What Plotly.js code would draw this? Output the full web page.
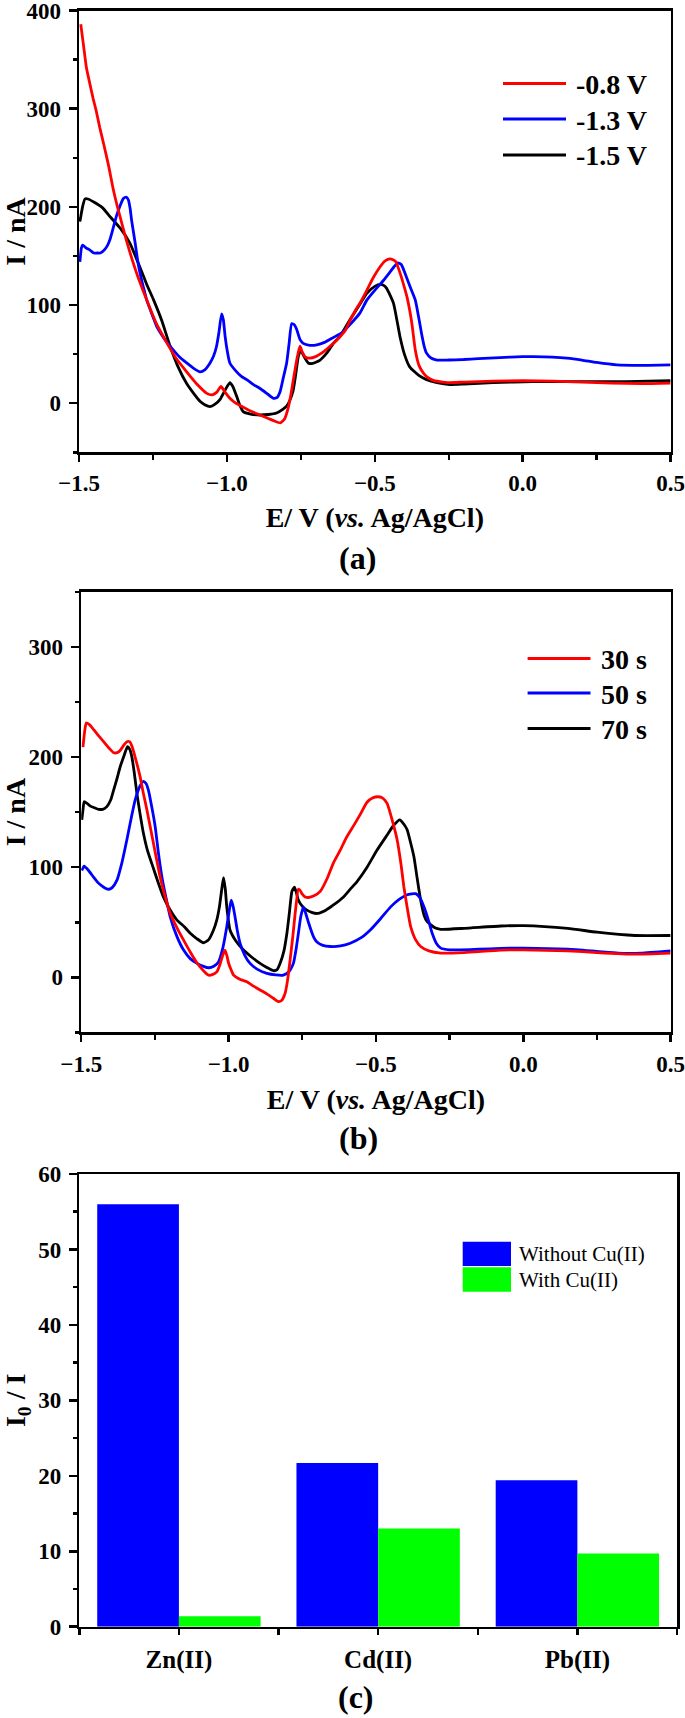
<!DOCTYPE html>
<html>
<head>
<meta charset="utf-8">
<script src="https://cdn.plot.ly/plotly-3.0.1.min.js"></script>
<style>html,body{margin:0;padding:0;background:#fff}#chart{width:685px;height:1718px}</style>
</head>
<body>
<div id="chart"></div>
<script>
// ---------- Panel (a): deposition potential ----------
const aLegend = ['-0.8 V', '-1.3 V', '-1.5 V'];
const aRedE = [-1.494,-1.485,-1.475,-1.463,-1.452,-1.442,-1.43,-1.415,-1.4,-1.385,-1.37,-1.355,-1.339,-1.32,-1.3,-1.271,-1.24,-1.204,-1.17,-1.136,-1.1,-1.068,-1.05,-1.035,-1.02,-1.008,-0.99,-0.97,-0.945,-0.92,-0.888,-0.86,-0.84,-0.82,-0.805,-0.793,-0.783,-0.772,-0.762,-0.753,-0.745,-0.735,-0.72,-0.7,-0.68,-0.663,-0.64,-0.62,-0.6,-0.584,-0.565,-0.55,-0.527,-0.505,-0.482,-0.465,-0.448,-0.43,-0.415,-0.4,-0.391,-0.375,-0.363,-0.35,-0.335,-0.32,-0.3,-0.28,-0.25,-0.2,-0.1,0.0,0.1,0.2,0.3,0.4,0.5];
const aRedI = [386,365,342,325,310,298,281,262,242,219,200,183,165,146,128,105,82,62,45,32,19,10,8.5,11,17,12,5,0,-4,-8,-12,-15.5,-18,-20,-16,-5,10,30,47,58,52,47,46,47.5,51,55,61,67,74,84,95,102,115,128,139,145,147,144.5,133,118,108,82,54,38,30.5,26,23,22,21,21.5,22.5,23,22.5,21.5,20.5,20,20.5];
const aBlueE = [-1.497,-1.492,-1.488,-1.475,-1.463,-1.45,-1.44,-1.428,-1.418,-1.405,-1.395,-1.383,-1.373,-1.36,-1.35,-1.34,-1.333,-1.327,-1.322,-1.31,-1.3,-1.288,-1.277,-1.271,-1.255,-1.237,-1.21,-1.181,-1.16,-1.136,-1.11,-1.091,-1.075,-1.057,-1.045,-1.035,-1.027,-1.018,-1.012,-1.006,-0.998,-0.99,-0.97,-0.95,-0.933,-0.91,-0.888,-0.865,-0.843,-0.83,-0.82,-0.81,-0.798,-0.79,-0.781,-0.772,-0.764,-0.753,-0.742,-0.72,-0.696,-0.67,-0.64,-0.61,-0.584,-0.55,-0.527,-0.5,-0.471,-0.45,-0.435,-0.422,-0.41,-0.395,-0.38,-0.363,-0.352,-0.342,-0.333,-0.325,-0.31,-0.29,-0.25,-0.2,-0.15,-0.077,0.0,0.036,0.1,0.149,0.2,0.25,0.318,0.4,0.5];
const aBlueI = [144,158,161,158,156,153,153,153,155,160,167,180,191,202,208.5,210,207,198,186,163,142,125,112,105,92,78,65,54,47,41,35,32,34,41,48,58,72,91,85,68,52,41,33,27,24,19,15,10,5,6,12,25,41,60,81,80,75,65,61,59,59.5,62,67,72,80,92,105,115,125,133,139,143,141,130,118,105,88,71,58,51,46,44,44,44.5,45.5,46.5,47.5,47.5,47,46,44,41.5,39,38.5,39];
const aBlackE = [-1.497,-1.494,-1.488,-1.48,-1.47,-1.45,-1.42,-1.395,-1.36,-1.328,-1.3,-1.271,-1.249,-1.22,-1.192,-1.165,-1.136,-1.11,-1.091,-1.075,-1.057,-1.04,-1.023,-1.005,-0.99,-0.98,-0.967,-0.955,-0.945,-0.92,-0.888,-0.86,-0.832,-0.81,-0.798,-0.787,-0.776,-0.767,-0.759,-0.751,-0.74,-0.725,-0.71,-0.685,-0.66,-0.64,-0.618,-0.584,-0.55,-0.527,-0.5,-0.481,-0.47,-0.46,-0.437,-0.415,-0.4,-0.382,-0.35,-0.325,-0.29,-0.246,-0.2,-0.1,0.035,0.2,0.35,0.5];
const aBlackI = [185,190,200,208,208,205,199,190,178,163,143,121,106,84,58,37,20,9,2,-1.5,-3.5,-1,4,14,21,17,7,-3,-8.5,-11,-12,-11.5,-10,-6,-3,3,13,30,47,54,48,41,40.5,44,52,61,68,85,101,112,119,121,120,117,102,68,50,37,28,24,21,19,19.5,21,22,22,22,23];

// ---------- Panel (b): deposition time ----------
const bLegend = ['30 s', '50 s', '70 s'];
const bRedE = [-1.494,-1.488,-1.483,-1.47,-1.458,-1.44,-1.424,-1.405,-1.39,-1.378,-1.368,-1.355,-1.345,-1.336,-1.328,-1.315,-1.3,-1.289,-1.277,-1.255,-1.232,-1.215,-1.198,-1.175,-1.153,-1.13,-1.107,-1.085,-1.068,-1.055,-1.04,-1.03,-1.021,-1.012,-1.005,-1.0,-0.99,-0.983,-0.96,-0.938,-0.915,-0.893,-0.87,-0.848,-0.831,-0.82,-0.808,-0.8,-0.791,-0.782,-0.774,-0.763,-0.757,-0.751,-0.74,-0.729,-0.71,-0.689,-0.665,-0.644,-0.62,-0.6,-0.575,-0.553,-0.53,-0.51,-0.494,-0.478,-0.462,-0.445,-0.428,-0.415,-0.405,-0.393,-0.382,-0.365,-0.348,-0.32,-0.28,-0.2,-0.076,0.0,0.151,0.25,0.379,0.5];
const bRedI = [209,224,231,229,225,219,214,208,204,204,206,211,214,214,210,198,182,167,152,122,91,73,58,45,34,23,13,6,2,2.5,5,11,19,24.8,19,13,6,2,-2,-4,-8,-11.5,-15,-19,-22,-21,-14.5,-3,16,37,58,80,79,76,73,72.5,74,78,90,104,116,127,138,148,159,163,164,163,158,143,125,103,82,62,46,34,28,24,22,22.5,24.8,25,24,22.5,21,22];
const bBlueE = [-1.498,-1.49,-1.475,-1.458,-1.443,-1.43,-1.418,-1.407,-1.395,-1.379,-1.362,-1.345,-1.33,-1.317,-1.3,-1.289,-1.28,-1.272,-1.26,-1.249,-1.238,-1.226,-1.212,-1.198,-1.175,-1.153,-1.13,-1.107,-1.085,-1.068,-1.05,-1.034,-1.02,-1.006,-0.998,-0.991,-0.985,-0.978,-0.97,-0.961,-0.945,-0.927,-0.9,-0.87,-0.84,-0.814,-0.795,-0.78,-0.77,-0.763,-0.755,-0.746,-0.738,-0.729,-0.712,-0.7,-0.68,-0.655,-0.62,-0.587,-0.55,-0.519,-0.485,-0.45,-0.42,-0.394,-0.365,-0.35,-0.337,-0.322,-0.309,-0.295,-0.28,-0.25,-0.212,-0.15,-0.076,0.0,0.151,0.25,0.322,0.4,0.5];
const bBlueI = [97,101,97,91,86,83,81,80,81.5,88,104,125,145,161,174,178,176,170,154,137,113,91,72,55,37,25,17,12.7,10,8.7,10,14,26,46,60,70,65,55,42,31,20,12.7,7,3.6,2.2,2,5,12.7,27,40,55,64,58,50,37,32,29,28,28.5,31,36,43,53,64,71,75,76,72,64,52,40,31,26.5,25,25,25.5,26.3,26.5,25.5,23.5,22,22,24];
const bBlackE = [-1.498,-1.494,-1.49,-1.48,-1.469,-1.455,-1.441,-1.427,-1.413,-1.4,-1.39,-1.378,-1.368,-1.355,-1.343,-1.335,-1.328,-1.32,-1.311,-1.3,-1.289,-1.275,-1.26,-1.24,-1.221,-1.2,-1.175,-1.15,-1.13,-1.107,-1.085,-1.068,-1.051,-1.04,-1.031,-1.023,-1.017,-1.011,-1.006,-0.995,-0.975,-0.95,-0.92,-0.893,-0.87,-0.848,-0.835,-0.825,-0.812,-0.802,-0.793,-0.785,-0.776,-0.769,-0.763,-0.748,-0.734,-0.718,-0.7,-0.67,-0.644,-0.61,-0.584,-0.564,-0.53,-0.496,-0.465,-0.439,-0.419,-0.405,-0.394,-0.382,-0.371,-0.36,-0.348,-0.336,-0.326,-0.3,-0.28,-0.2,-0.076,0.0,0.151,0.25,0.379,0.5];
const bBlackI = [143,152,159.5,158,155.5,154,152.6,152.6,155,161,170,181,191,201,209.5,207,200,186,167,148,131,115,103,87,73,62,52,46,40,35,31.4,34,43,52,64,80,90.5,80,64,43,33,25,18,12.7,9,6,7,12.7,24,40,60,78,82,76,70,64,61,59,58,61,65.7,73,81,87,100,115.6,128,138.3,143,139,134,122,109.5,90,70,56,50.5,45,43.6,44.5,46.6,47,44.5,41,38,38];

// ---------- Panel (c): interference of Cu(II) ----------
const categories = ['Zn(II)', 'Cd(II)', 'Pb(II)'];
const cLegend = ['Without Cu(II)', 'With Cu(II)'];
const withoutCu = [56.0, 21.7, 19.4];
const withCu = [1.4, 13.0, 9.7];

// ---------- styling ----------
const SERIF = '"Liberation Serif", "Times New Roman", serif';
const RED = '#ff0000', BLUE = '#0000ff', BLACK = '#000000', GREEN = '#00ff00';
const LW = 2.5, CW = 2.8;

function lineTrace(x, y, color, name, ax) {
  return {x: x, y: y, type: 'scatter', mode: 'lines', name: name,
          line: {color: color, width: CW, shape: 'spline', smoothing: 0.5},
          xaxis: 'x' + ax, yaxis: 'y' + ax, showlegend: false};
}

const data = [
  lineTrace(aBlackE, aBlackI, BLACK, aLegend[2], ''),
  lineTrace(aBlueE, aBlueI, BLUE, aLegend[1], ''),
  lineTrace(aRedE, aRedI, RED, aLegend[0], ''),
  lineTrace(bBlackE, bBlackI, BLACK, bLegend[2], '2'),
  lineTrace(bBlueE, bBlueI, BLUE, bLegend[1], '2'),
  lineTrace(bRedE, bRedI, RED, bLegend[0], '2'),
  {x: categories.map((c, i) => i), y: withoutCu, type: 'bar', name: cLegend[0],
   marker: {color: BLUE}, xaxis: 'x3', yaxis: 'y3', showlegend: false},
  {x: categories.map((c, i) => i), y: withCu, type: 'bar', name: cLegend[1],
   marker: {color: GREEN}, xaxis: 'x3', yaxis: 'y3', showlegend: false}
];

const tickFont = {family: SERIF, size: 23, color: '#000', weight: 'bold'};
const titleFont = {family: SERIF, size: 28, color: '#000', weight: 'bold'};

function baseAxis(extra) {
  return Object.assign({
    showline: true, linecolor: '#000', linewidth: LW, mirror: true,
    ticks: 'outside', ticklen: 8, tickwidth: LW, tickcolor: '#000',
    showgrid: false, zeroline: false, fixedrange: true,
    tickfont: tickFont, automargin: false, ticklabeloverflow: 'allow'
  }, extra);
}
function xE(domain, anchor, standoff) {
  return baseAxis({
    domain: domain, anchor: anchor, range: [-1.5, 0.5], dtick: 0.5, tick0: 0,
    tickformat: '.1f', ticklen: 7, ticklabelstandoff: 2,
    minor: {dtick: 0.25, ticks: 'outside', ticklen: 5, tickwidth: LW, tickcolor: '#000'},
    title: {text: 'E/ V (<i>vs.</i> Ag/AgCl)', font: titleFont, standoff: standoff}
  });
}
function yI(domain, anchor, range) {
  return baseAxis({
    domain: domain, anchor: anchor, range: range, dtick: 100, tick0: 0, ticklabelstandoff: 3,
    minor: {dtick: 50, ticks: 'outside', ticklen: 4, tickwidth: LW, tickcolor: '#000'},
    title: {text: 'I / nA', font: titleFont, standoff: 8}
  });
}

const W = 685, H = 1718;
const px = v => v / W;
const py = v => 1 - v / H;

const shapes = [];
const annotations = [];
function legendLine(x0, x1, y, color) {
  shapes.push({type: 'line', xref: 'paper', yref: 'paper', x0: px(x0), x1: px(x1), y0: py(y), y1: py(y),
               line: {color: color, width: CW}});
}
function label(text, x, y, font, xanchor) {
  annotations.push({text: text, xref: 'paper', yref: 'paper', x: px(x), y: py(y),
                    xanchor: xanchor || 'center', yanchor: 'middle', showarrow: false, font: font});
}
const legFont = {family: SERIF, size: 28, color: '#000', weight: 'bold'};
// legend (a)
[[RED, 83.5], [BLUE, 119], [BLACK, 155]].forEach((d, i) => {
  legendLine(503, 566, d[1], d[0]);
  label(aLegend[i], 574, d[1] + 1, legFont, 'left');
});
// legend (b)
[[RED, 658.5], [BLUE, 693], [BLACK, 728.5]].forEach((d, i) => {
  legendLine(527.6, 590.5, d[1], d[0]);
  label(bLegend[i], 599, d[1] + 1, legFont, 'left');
});
// legend (c)
[[BLUE, 1241.7, 1266], [GREEN, 1267.3, 1291.7]].forEach((d, i) => {
  shapes.push({type: 'rect', xref: 'paper', yref: 'paper', x0: px(462.7), x1: px(511),
               y0: py(d[1]), y1: py(d[2]), fillcolor: d[0], line: {width: 0}});
  label(cLegend[i], 516.7, (d[1] + d[2]) / 2, {family: SERIF, size: 21, color: '#000'}, 'left');
});
// panel labels
const panelFont = {family: SERIF, size: 32, color: '#000', weight: 'bold'};
label('(a)', 357, 558, panelFont);
label('(b)', 358, 1138, panelFont);
label('(c)', 356, 1697, panelFont);

const layout = {
  width: W, height: H, autosize: false,
  margin: {l: 0, r: 0, t: 0, b: 0, pad: 0},
  paper_bgcolor: '#fff', plot_bgcolor: '#fff',
  showlegend: false,
  barmode: 'group', bargap: 0.18, bargroupgap: 0,
  font: {family: SERIF, color: '#000'},
  xaxis: xE([px(79), px(670.6)], 'y', 12),
  yaxis: yI([py(452.3), py(10.5)], 'x', [-50, 400]),
  xaxis2: xE([px(81.2), px(670.6)], 'y2', 14),
  yaxis2: yI([py(1032.4), py(591.9)], 'x2', [-50, 350]),
  xaxis3: baseAxis({
    domain: [px(79.3), px(677)], anchor: 'y3', range: [-0.5, 2.5],
    tickvals: categories.map((c, i) => i), ticktext: categories, ticklen: 6, ticklabelstandoff: 3,
    tickfont: {family: SERIF, size: 25, color: '#000', weight: 'bold'},
    minor: {dtick: 0.5, tick0: -0.5, ticks: 'outside', ticklen: 6, tickwidth: LW, tickcolor: '#000'}
  }),
  yaxis3: baseAxis({
    domain: [py(1626.7), py(1174)], anchor: 'x3', range: [0, 60], dtick: 10, tick0: 0, ticklabelstandoff: 3,
    minor: {dtick: 5, ticks: 'outside', ticklen: 4, tickwidth: LW, tickcolor: '#000'},
    title: {text: 'I<sub>0</sub> / I', font: titleFont, standoff: 8}
  }),
  shapes: shapes,
  annotations: annotations
};

Plotly.newPlot('chart', data, layout, {displayModeBar: false, staticPlot: true});
</script>
</body>
</html>
